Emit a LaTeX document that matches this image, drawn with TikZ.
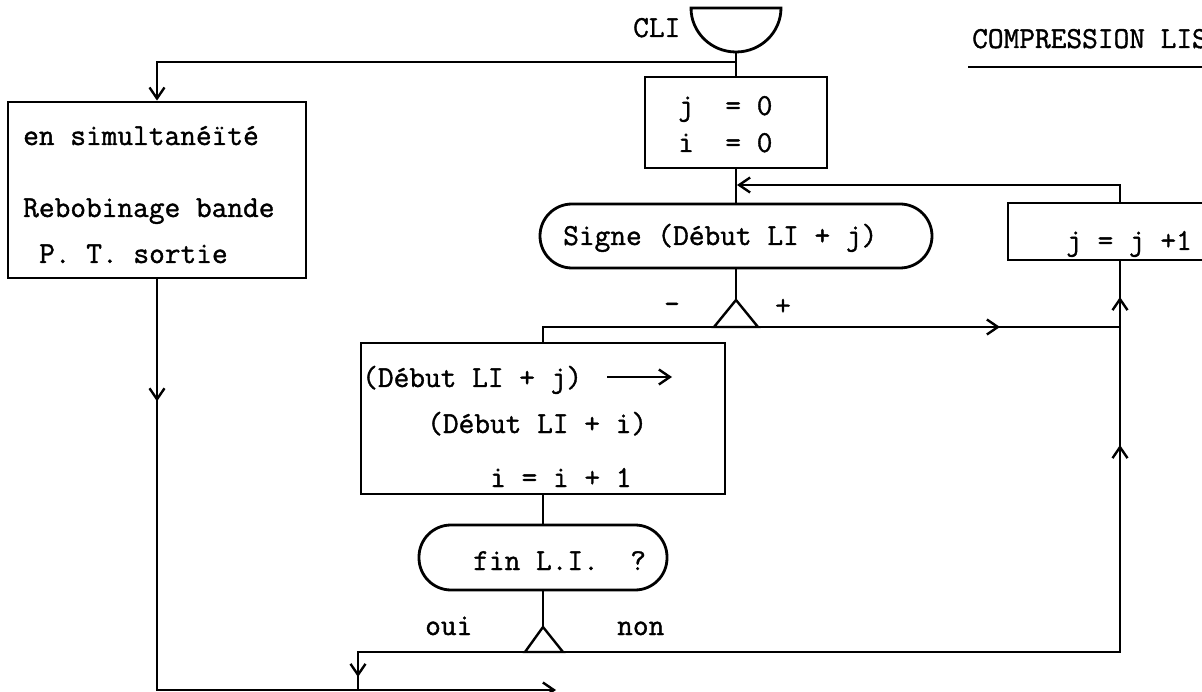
\documentclass[tikz,border=0pt]{standalone}
\usepackage{fontspec}
\newfontfamily\typew{Latin Modern Mono}[FakeBold=1.2]
\usetikzlibrary{arrows.meta,decorations.markings}
\tikzset{
  vtip/.tip={Straight Barb[length=11pt,width=15pt]},
  wire/.style={line width=2.4pt},
  flow/.style={wire,-vtip},
  arrowat/.style={postaction={decorate},
    decoration={markings, mark=at position #1 with {\arrow{vtip}}}},
  box/.style={draw, line width=2.8pt, rectangle, inner sep=0pt},
  pill/.style={box, rounded corners=32pt},
  txt/.style={inner sep=0pt, anchor=base west,
    font=\typew\fontsize{30.5}{36}\selectfont},
  ctxt/.style={txt, anchor=center},
}
\begin{document}
\begin{tikzpicture}[x=1pt,y=-1pt]
  \useasboundingbox (0,0) rectangle (1202,692);
  \clip (0,0) rectangle (1202,692);
  \fill[white] (0,0) rectangle (1202,692);

  % title
  \node[txt] (title) at (972,48) {COMPRESSION LIS};
  \coordinate (ulA) at (968,67);
  \coordinate (ulB) at (1230,67);
  \draw[wire, line width=1.8pt] (ulA) -- (ulB);

  % entry terminal
  \draw[box] (691,8) -- (781,8) arc[start angle=0, end angle=180, x radius=45, y radius=44] -- cycle;
  \coordinate (cli) at (736,52);
  \node[txt] (clilbl) at (633,37) {CLI};

  % boxes
  \node[box, minimum width=298pt, minimum height=176pt] (sim) at (157,190) {};
  \node[txt] (sim1) at (23,145) {en simultanéïté};
  \node[txt] (sim2) at (23,217) {Rebobinage bande};
  \node[txt] (sim3) at (39,263) {P. T. sortie};

  \node[box, minimum width=182pt, minimum height=91pt] (init) at (736,122.5) {};
  \node[txt] (init1) at (678,115) {j~~=~0};
  \node[txt] (init2) at (678,152) {i~~=~0};

  \node[pill, minimum width=392pt, minimum height=64pt] (signe) at (736,236) {};
  \node[txt] (signetxt) at (563,245) {Signe (Début LI + j)};

  \node[box, minimum width=224pt, minimum height=57pt] (incr) at (1120,231.5) {};
  \node[txt] (incrtxt) at (1066,250) {j = j +1};

  \node[box, minimum width=364pt, minimum height=151pt] (move) at (543,418.5) {};
  \node[txt] (move1) at (362,387) {(Début LI + j)};
  \node[txt] (move2) at (427,433) {(Début LI + i)};
  \node[txt] (move3) at (490,487) {i = i + 1};
  \coordinate (mvA) at (607,377);
  \coordinate (mvB) at (672,377);
  \draw[flow] (mvA) -- (mvB);

  \node[pill, minimum width=248pt, minimum height=65pt] (fin) at (543,557.5) {};
  \node[txt] (fintxt) at (473,570) {fin L.I.~~?};

  % entry and left branch
  \coordinate (topj) at (736,62);
  \draw[wire] (cli) -- (init.north);
  \draw[flow] (topj) -| (sim.north);

  % sign test
  \coordinate (f1) at (736,300);
  \coordinate (f1L) at (714,327);
  \coordinate (f1R) at (758,327);
  \coordinate (mcorner) at (543,327);
  \coordinate (jr) at (1120,327);
  \draw[wire] (init.south) -- (signe.north);
  \draw[wire] (signe.south) -- (f1);
  \draw[wire] (f1L) -- (f1) -- (f1R) -- cycle;
  \node[ctxt] (minus) at (672,308) {-};
  \node[ctxt] (plus) at (783,307) {+};
  \draw[wire] (f1L) -- (mcorner) -- (move.north);
  \draw[wire, arrowat=242pt] (f1R) -- (jr);
  \draw[wire, arrowat=30pt] (jr) -- (incr.south);

  % loop back
  \coordinate (loopin) at (737,185);
  \draw[flow] (incr.north) |- (loopin);

  % end test
  \coordinate (f2) at (543,627);
  \coordinate (f2L) at (525,652);
  \coordinate (f2R) at (563,652);
  \coordinate (ouiC) at (358,652);
  \coordinate (ouiD) at (358,690);
  \coordinate (nonC) at (1120,652);
  \draw[wire] (move.south) -- (fin.north);
  \draw[wire] (fin.south) -- (f2);
  \draw[wire] (f2L) -- (f2) -- (f2R) -- cycle;
  \node[txt] (oui) at (425,635) {oui};
  \node[txt] (non) at (617,635) {non};
  \draw[wire, arrowat=192pt] (f2L) -- (ouiC) -- (ouiD);
  \draw[wire, arrowat=764pt] (f2R) -- (nonC) -- (jr);

  % exit
  \coordinate (lcorner) at (157,690);
  \coordinate (exit) at (556,690);
  \draw[flow, arrowat=122pt] (sim.south) -- (lcorner) -- (exit);
\end{tikzpicture}
\end{document}
